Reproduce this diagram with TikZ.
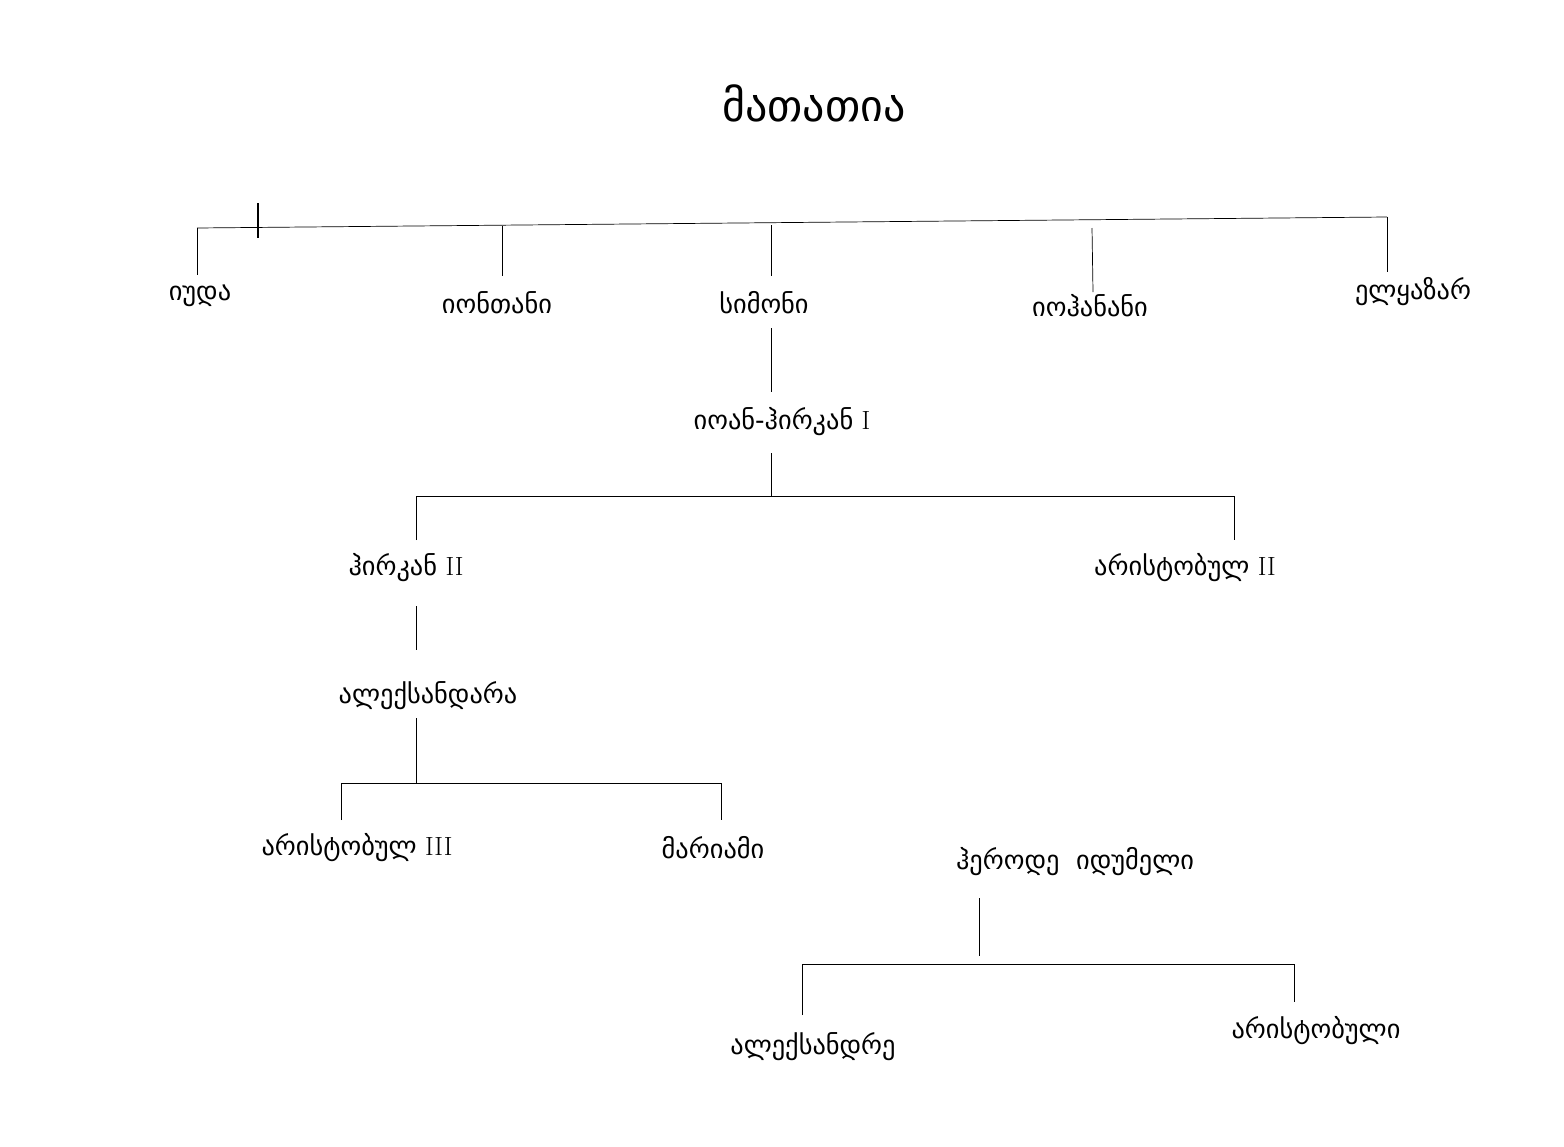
\documentclass[tikz,border=0pt]{standalone}
\usepackage{fontspec}
\newfontfamily\geo{DejaVu Sans}
\usetikzlibrary{positioning}
\tikzset{every node/.append style={inner sep=1pt}}
\tikzset{person/.style={font=\geo\fontsize{15}{18}\selectfont}}
\begin{document}
\begin{tikzpicture}[x=0.02cm,y=-0.02cm]
    \useasboundingbox (0,0) rectangle (1564,1146);
    \node[font=\geo\fontsize{25}{30}\selectfont] at (814,103) (title) {მათათია};
    % first generation
    \node[person] at (200,296) (iuda) {იუდა};
    \node[person] at (497,303) (ionatan) {იონთანი};
    \node[person] at (764,303) (simon) {სიმონი};
    \node[person] at (1090,306) (iohanan) {იოჰანანი};
    \node[person] at (1413,292) (eleazar) {ელყაზარ};
    \coordinate (t1) at (197,228);
    \coordinate (t5) at (1387,217);
    \draw (t1) -- (t5);
    \draw[thick] (258,203) -- (258,238);
    \draw (t1) -- (197,275);
    \draw (502,226) -- (502,276);
    \draw (771,225) -- (771,276);
    \draw (1092,228) -- (1093,292);
    \draw (t5) -- (1387,272);
    % hyrcanus
    \node[person] at (782,422) (ioan) {იოან-ჰირკან \rmfamily I};
    \draw (771,328) -- (771,392);
    \draw (771,453) -- (771,496);
    \draw (416,540) -- (416,496) -- (1234,496) -- (1234,540);
    \node[person] at (406,568) (hirkan) {ჰირკან \rmfamily II};
    \node[person] at (1185,568) (aristob2) {არისტობულ \rmfamily II};
    \draw (416,606) -- (416,650);
    \node[person] at (428,696) (aleksandra) {ალექსანდარა};
    \draw (416,718) -- (416,783);
    \draw (341,820) -- (341,783) -- (721,783) -- (721,820);
    \node[person] at (357,848) (aristob3) {არისტობულ \rmfamily III};
    \node[person] at (713,848) (mariam) {მარიამი};
    % herod
    \node[person] at (1075,862) (herode) {ჰეროდე \ იდუმელი};
    \draw (979,898) -- (979,956);
    \draw (802,1015) -- (802,964) -- (1294,964) -- (1294,1002);
    \node[person] at (813,1047) (aleksandre) {ალექსანდრე};
    \node[person] at (1316,1031) (aristobuli) {არისტობული};
\end{tikzpicture}
\end{document}
